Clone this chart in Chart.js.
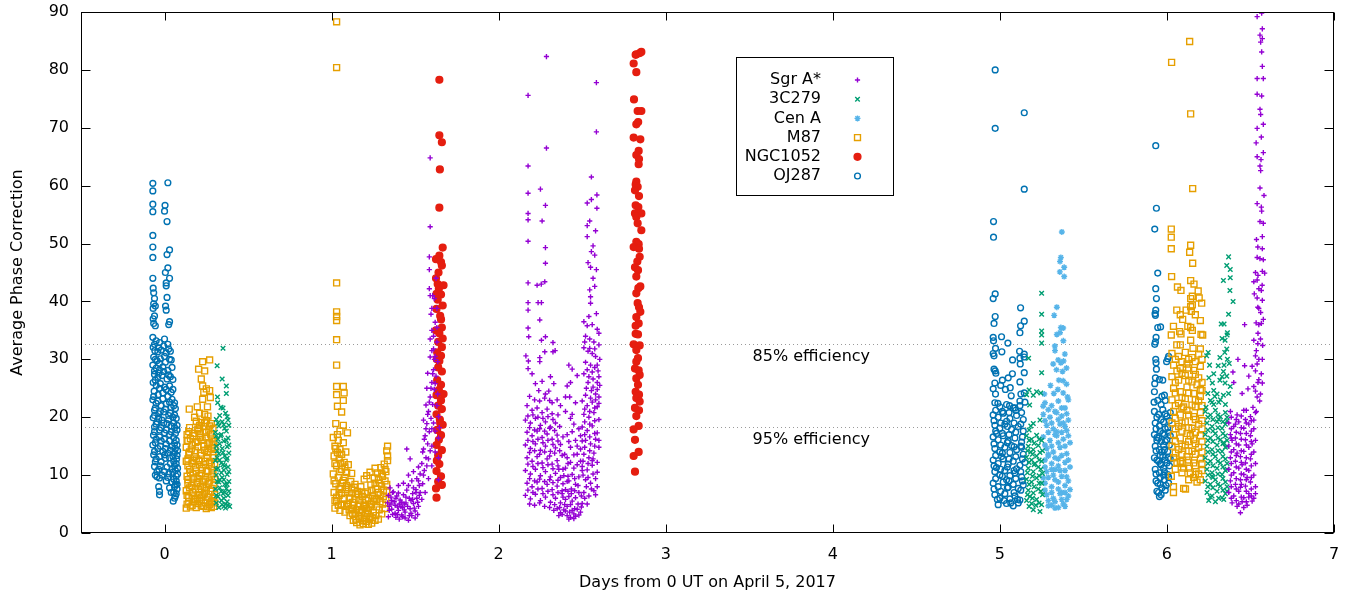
<!DOCTYPE html>
<html><head><meta charset="utf-8">
<script src="https://cdn.jsdelivr.net/npm/chart.js@4.4.1/dist/chart.umd.min.js"></script>
<style>html,body{margin:0;padding:0;background:#fff;}canvas{display:block;}</style>
</head><body>
<canvas id="c" width="1346" height="592"></canvas>
<script>
// ---- tick labels ----
const xTickValues = [0,1,2,3,4,5,6,7];
const yTickValues = [0,10,20,30,40,50,60,70,80,90];

// ---- efficiency reference levels ----
const efficiencyLevels = [
  {label:'85% efficiency', value:32.67, labelX:3.52, labelY:30.5},
  {label:'95% efficiency', value:18.35, labelX:3.52, labelY:16.1}
];

// ---- series values [day, average phase correction] ----
const sgrDay1 = [[1.34,6.5],[1.36,5.6],[1.38,4.8],[1.4,3.9],[1.42,3.1],[1.44,2.6],[1.46,2.2],[1.48,3.0],[1.5,3.8],[1.52,4.6],
[1.345,3.9],[1.365,3.2],[1.385,2.7],[1.405,2.4],[1.425,4.4],[1.445,5.2],[1.465,6.0],[1.485,6.8],[1.505,7.5],[1.525,8.2],
[1.35,7.8],[1.37,7.1],[1.39,6.4],[1.41,5.7],[1.43,6.6],[1.45,7.4],[1.47,4.2],[1.49,5.1],[1.51,6.0],[1.53,10.2],
[1.34,2.8],[1.36,4.1],[1.38,3.4],[1.4,6.9],[1.42,5.3],[1.44,3.6],[1.46,8.2],[1.48,9.0],[1.5,2.6],[1.52,11.4],
[1.45,14.5],[1.47,12.8],[1.49,10.6],[1.51,9.4],[1.53,7.0],[1.355,5.0],[1.395,4.5],[1.435,4.0],[1.475,5.6],[1.515,3.2],
[1.54,12.0],[1.55,14.5],[1.56,16.8],[1.57,18.9],[1.58,21.0],[1.59,23.5],[1.6,26.0],[1.61,28.2],[1.62,30.5],[1.63,33.0],
[1.545,8.5],[1.555,10.8],[1.565,13.0],[1.575,15.4],[1.585,17.5],[1.595,19.8],[1.605,22.2],[1.615,24.8],[1.625,27.1],[1.635,29.6],
[1.54,5.8],[1.56,7.0],[1.58,9.4],[1.6,11.6],[1.62,14.0],[1.64,16.4],[1.58,12.8],[1.6,15.0],[1.62,17.6],[1.64,20.1],
[1.6,31.5],[1.61,34.0],[1.62,36.4],[1.63,38.8],[1.615,40.5],[1.59,64.8],[1.59,52.9],[1.585,47.7],[1.585,45.5],[1.585,42.2],
[1.59,41.0],[1.595,37.8],[1.6,35.0],[1.59,30.4],[1.57,25.0],[1.575,27.6],[1.565,22.1],[1.55,19.5],[1.59,33.5],[1.605,41.0],
[1.625,44.0],[1.63,35.5],[1.635,24.0],[1.64,13.0],[1.64,9.2],[1.645,18.2]];
const sgrDay1b = [[1.335,5.2],[1.355,6.2],[1.375,5.4],[1.395,3.2],[1.415,4.6],[1.435,5.0],[1.455,4.6],[1.475,3.4],[1.495,4.3],[1.515,5.3],
[1.345,4.6],[1.365,7.0],[1.385,6.0],[1.405,5.0],[1.425,2.8],[1.445,6.2],[1.465,3.0],[1.485,5.8],[1.505,7.0],[1.525,6.5],
[1.4,8.2],[1.43,8.6],[1.46,10.0],[1.49,7.8],[1.52,9.0],[1.545,14.0],[1.555,16.2],[1.565,18.0],[1.575,20.5],[1.585,22.6],
[1.595,25.0],[1.605,27.5],[1.615,30.0],[1.55,10.0],[1.57,11.6],[1.59,14.2],[1.61,19.0],[1.63,22.0],[1.6,18.0],[1.62,25.8],
[1.61,31.8],[1.6,38.8]];

const sgrDay2 = [[2.286,82.3],[2.585,77.8],[2.176,75.6],[2.585,69.3],[2.286,66.5],[2.176,63.4],[2.555,61.5],[2.176,58.7],[2.25,59.4],[2.588,58.4],
[2.53,57.0],[2.555,57.6],[2.28,56.6],[2.588,56.1],[2.176,55.2],[2.176,54.1],[2.26,53.9],[2.545,53.9],[2.53,53.1],[2.58,52.2],
[2.53,51.2],[2.176,50.4],[2.28,49.3],[2.565,49.6],[2.555,48.6],[2.575,48.0],[2.535,46.7],[2.28,46.6],[2.55,45.9],[2.585,45.5],
[2.176,43.2],[2.23,42.8],[2.255,43.0],[2.276,43.4],[2.565,44.0],[2.575,42.6],[2.545,42.0],[2.176,39.8],[2.176,38.5],[2.236,39.8],
[2.256,39.8],[2.55,40.8],[2.55,39.7],[2.585,37.9],[2.246,36.8],[2.54,37.4],[2.176,35.4],[2.18,33.9],[2.28,33.9],[2.325,32.9],
[2.256,33.3],[2.276,31.3],[2.325,31.3],[2.338,31.5],[2.163,30.6],[2.178,29.7],[2.246,29.6],[2.176,28.4],[2.246,30.3],
[2.51,36.5],[2.53,35.8],[2.56,36.0],[2.59,35.2],[2.6,34.5],[2.52,34.0],[2.545,33.5],[2.57,33.0],[2.6,32.5],[2.51,32.0],
[2.535,31.4],[2.56,31.0],[2.58,30.5],[2.605,30.0],[2.52,29.5],[2.55,29.0],[2.575,28.6],[2.595,28.0],[2.51,27.5],[2.54,27.0],
[2.565,26.6],[2.59,26.0],[2.605,25.5],[2.525,25.0],[2.555,24.6],[2.58,24.0],[2.6,23.5],
[2.42,29.0],[2.44,28.3],[2.47,27.2],[2.41,25.4],[2.425,23.5],[2.4,21.0],[2.44,20.5],[2.37,22.0],[2.31,27.0],[2.33,25.8],
[2.35,23.0],[2.3,24.5],[2.32,22.5],[2.2,27.5],[2.22,25.8],[2.24,24.6],[2.26,26.2],[2.28,24.0],
[2.17,22.0],[2.2,21.2],[2.23,21.6],[2.26,20.8],[2.29,21.4],[2.32,20.6],
[2.16,19.5],[2.19,19.0],[2.22,19.8],[2.25,18.6],[2.28,19.2],[2.31,18.3],[2.34,19.0],
[2.17,17.4],[2.2,16.8],[2.23,17.6],[2.26,16.5],[2.29,17.1],[2.32,16.2],[2.35,16.9],
[2.16,15.2],[2.19,14.6],[2.22,15.4],[2.25,14.3],[2.28,15.0],[2.31,14.1],[2.34,14.7],[2.37,15.3],
[2.17,13.0],[2.2,12.4],[2.23,13.2],[2.26,12.1],[2.29,12.8],[2.32,11.9],[2.35,12.5],[2.38,13.4],
[2.16,10.8],[2.19,10.2],[2.22,11.0],[2.25,9.9],[2.28,10.6],[2.31,9.7],[2.34,10.3],[2.37,9.6],[2.4,11.2],
[2.17,8.6],[2.2,8.0],[2.23,8.8],[2.26,7.7],[2.29,8.4],[2.32,7.5],[2.35,8.1],[2.38,7.3],[2.41,8.9],
[2.16,6.5],[2.19,5.9],[2.22,6.7],[2.25,5.6],[2.28,6.2],[2.31,5.3],[2.34,6.0],[2.37,5.2],[2.4,5.8],
[2.35,4.2],[2.37,3.5],[2.39,4.0],[2.41,3.0],[2.43,2.7],[2.45,3.3],[2.47,4.1],[2.49,3.6],[2.38,6.8],[2.4,7.5],
[2.42,6.3],[2.44,5.5],[2.46,6.1],[2.48,7.0],[2.5,5.1],[2.42,9.0],[2.44,10.1],[2.46,8.4],[2.48,9.7],[2.5,10.8],
[2.43,12.2],[2.45,13.5],[2.47,11.8],[2.49,14.5],[2.42,15.8],[2.44,17.5],[2.46,16.0],[2.41,4.6],[2.43,4.9],[2.45,2.5],
[2.39,9.9],[2.36,11.0],[2.33,3.9],[2.48,18.0],[2.5,15.9],
[2.5,22.8],[2.53,22.0],[2.56,22.6],[2.59,21.8],[2.51,20.5],[2.54,20.0],[2.57,20.8],[2.6,19.6],[2.5,18.3],[2.53,17.7],
[2.56,18.5],[2.59,17.3],[2.52,16.0],[2.55,15.4],[2.58,16.2],[2.6,14.8],[2.51,13.6],[2.54,13.0],[2.57,13.8],[2.5,11.5],
[2.53,10.9],[2.56,11.7],[2.59,10.5],[2.52,9.2],[2.55,8.6],[2.58,9.4],[2.51,7.0],[2.54,6.4],[2.57,7.3],[2.53,5.0],
[2.56,12.5],[2.6,27.0],[2.59,8.0]];
const sgrDay2b = [[2.185,23.6],[2.215,23.0],[2.245,22.8],[2.275,23.3],[2.305,22.9],
[2.175,20.2],[2.205,20.4],[2.235,20.0],[2.265,19.8],[2.295,20.1],[2.325,19.6],[2.355,20.4],
[2.185,18.2],[2.215,17.8],[2.245,18.0],[2.275,17.6],[2.305,18.1],[2.335,17.7],[2.365,18.4],
[2.175,16.0],[2.205,15.8],[2.235,16.2],[2.265,15.6],[2.295,16.0],[2.325,15.3],[2.355,15.9],[2.385,16.6],
[2.185,13.9],[2.215,14.2],[2.245,13.6],[2.275,14.0],[2.305,13.3],[2.335,13.8],[2.365,14.2],[2.395,13.6],
[2.175,11.9],[2.205,11.5],[2.235,12.0],[2.265,11.3],[2.295,11.8],[2.325,11.1],[2.355,11.6],[2.385,11.0],[2.415,12.0],
[2.185,9.4],[2.215,9.0],[2.245,9.3],[2.275,8.9],[2.305,9.2],[2.325,8.7],[2.355,9.1],[2.385,8.5],[2.415,9.8],[2.435,7.6],[2.455,9.4],
[2.175,7.4],[2.205,7.0],[2.235,7.6],[2.265,6.8],[2.295,7.2],[2.325,6.6],[2.355,7.0],[2.385,6.2],[2.415,7.2],[2.435,6.8],[2.455,7.3],[2.475,8.2],[2.495,6.4],
[2.185,5.0],[2.215,4.8],[2.245,5.2],[2.275,4.6],[2.305,4.4],[2.335,4.9],[2.365,4.4],[2.395,4.9],[2.425,3.6],[2.455,4.2],[2.475,5.0],[2.495,4.5],[2.515,6.0],
[2.38,3.2],[2.4,3.8],[2.42,2.4],[2.44,3.9],[2.46,2.9],[2.48,3.1],[2.36,3.0],
[2.515,21.4],[2.545,21.0],[2.575,21.6],[2.6,22.4],[2.515,19.2],[2.545,18.8],[2.575,19.4],[2.515,17.0],[2.545,16.6],[2.575,17.2],
[2.6,16.0],[2.515,14.8],[2.545,14.2],[2.575,15.0],[2.505,12.4],[2.535,12.0],[2.565,12.8],[2.59,12.2],[2.505,10.0],[2.535,9.6],
[2.565,10.2],[2.525,8.0],[2.555,7.6],[2.58,6.6],[2.515,33.0],[2.545,31.9],[2.575,31.8],[2.53,28.2],[2.56,27.8],[2.59,29.0],
[2.535,26.0],[2.565,25.2],[2.59,24.8],[2.52,23.8],[2.55,23.3],[2.58,23.0],
[2.41,13.0],[2.43,14.8],[2.45,11.2],[2.47,13.6],[2.49,12.4],[2.41,17.0],[2.45,18.8],[2.47,15.0],[2.49,16.8],[2.43,19.8],
[2.46,22.5],[2.43,26.0],[2.4,23.5]];

const sgrDay6 = [[6.567,89.8],[6.54,89.2],[6.571,87.1],[6.557,86.0],[6.571,85.4],[6.561,84.8],[6.567,83.1],[6.571,80.6],[6.54,78.5],[6.577,78.5],
[6.54,75.8],[6.567,75.5],[6.557,73.2],[6.561,72.3],[6.577,70.6],[6.54,69.9],[6.565,68.4],[6.534,67.4],[6.577,65.7],[6.54,65.0],
[6.563,64.5],[6.557,63.4],[6.561,62.6],[6.557,59.6],[6.581,58.3],[6.54,56.9],[6.565,56.3],[6.567,55.6],[6.557,53.8],[6.577,53.5],
[6.571,51.2],[6.536,50.7],[6.544,49.4],[6.571,49.1],[6.54,47.6],[6.557,47.4],[6.577,47.2],[6.53,45.0],[6.571,45.2],[6.585,44.9],
[6.54,43.7],[6.52,43.4],[6.55,42.2],[6.565,41.9],[6.523,41.3],[6.54,40.6],[6.571,40.2],[6.544,39.0],[6.561,38.1],[6.577,36.9],
[6.534,36.3],[6.55,36.0],[6.565,36.2],[6.465,36.0],[6.52,33.3],[6.544,32.7],[6.573,32.4],[6.53,30.6],[6.571,30.0],[6.425,30.0],
[6.465,28.9],[6.51,28.8],[6.54,29.2],[6.395,27.8],[6.49,27.1],[6.571,25.9],[6.52,25.3],[6.4,26.0],[6.485,24.9],[6.45,24.1],
[6.54,23.5],[6.515,21.7],[6.475,21.2],[6.53,28.0],[6.55,26.5],[6.53,24.5],[6.555,22.8],[6.535,21.0],[6.52,19.5],
[6.38,21.0],[6.42,20.4],[6.46,21.2],[6.5,20.1],[6.53,20.8],
[6.37,19.0],[6.4,18.4],[6.43,19.2],[6.46,18.1],[6.49,18.8],[6.52,18.0],
[6.38,17.0],[6.41,16.4],[6.44,17.2],[6.47,16.1],[6.5,16.8],[6.53,16.0],
[6.37,15.0],[6.4,14.4],[6.43,15.2],[6.46,14.1],[6.49,14.8],[6.52,14.0],
[6.38,13.0],[6.41,12.4],[6.44,13.2],[6.47,12.1],[6.5,12.8],[6.53,12.0],
[6.37,11.0],[6.4,10.4],[6.43,11.2],[6.46,10.1],[6.49,10.8],[6.52,10.0],
[6.38,9.0],[6.41,8.4],[6.44,9.2],[6.47,8.1],[6.5,8.8],[6.53,8.0],
[6.37,7.0],[6.4,6.4],[6.43,7.2],[6.46,6.1],[6.49,6.8],[6.52,6.0],
[6.39,5.2],[6.42,4.6],[6.45,5.4],[6.48,4.8],[6.51,5.5],[6.44,3.5],
[6.39,16.0],[6.42,13.8],[6.45,11.8],[6.48,9.6],[6.51,15.4],[6.44,7.9],[6.41,18.8],[6.47,19.6]];
const sgrDay6b = [[6.385,20.0],[6.415,19.6],[6.445,20.2],[6.475,19.0],[6.505,19.4],[6.385,18.0],[6.415,17.4],[6.445,18.2],[6.475,17.2],[6.505,17.6],
[6.385,16.4],[6.415,15.4],[6.445,16.2],[6.475,15.2],[6.505,15.8],[6.385,14.0],[6.415,13.4],[6.445,14.2],[6.475,13.0],[6.505,13.6],
[6.385,12.0],[6.415,11.4],[6.445,12.2],[6.475,11.0],[6.505,11.6],[6.385,10.0],[6.415,9.4],[6.445,10.2],[6.475,9.2],[6.505,9.6],
[6.385,8.0],[6.415,7.6],[6.445,8.4],[6.475,7.2],[6.505,7.6],[6.385,6.0],[6.415,5.6],[6.445,6.2],[6.475,5.4],[6.505,6.4],
[6.43,5.0],[6.46,4.4],[6.49,6.2],[6.53,6.8],[6.545,34.5],[6.56,33.5],[6.535,31.5],[6.55,30.0],[6.565,27.5],[6.545,26.0],
[6.56,24.0],[6.55,38.8],[6.57,42.8],[6.545,44.5]];

const c3Day0 = [[0.35,31.9],[0.315,28.9],[0.345,26.6],[0.37,25.4],[0.37,24.1],[0.317,23.5],[0.318,22.5],[0.338,21.7],[0.35,21.6],[0.365,20.7],
[0.33,20.3],[0.375,20.1],[0.31,19.6],[0.345,19.2],[0.38,19.5],[0.325,18.5],[0.36,18.1],[0.385,18.6],[0.305,17.4],[0.34,17.0],
[0.37,17.6],[0.32,16.2],[0.355,15.9],[0.38,16.4],[0.31,15.0],[0.345,14.6],[0.375,14.9],[0.325,13.7],[0.36,13.3],[0.385,13.8],
[0.305,12.5],[0.34,12.1],[0.37,12.6],[0.32,11.2],[0.355,10.9],[0.38,11.4],[0.31,10.0],[0.345,9.6],[0.375,10.1],[0.325,8.8],
[0.36,8.4],[0.385,8.9],[0.305,7.6],[0.34,7.2],[0.37,7.7],[0.32,6.3],[0.355,6.0],[0.38,6.5],[0.31,5.2],[0.345,4.9],
[0.375,5.4],[0.325,4.4],[0.365,4.3],[0.39,4.6],[0.335,16.8],[0.35,11.8],[0.33,9.2],[0.36,7.0],[0.315,13.0]];
const c3Day0b = [[0.32,19.0],[0.355,18.7],[0.31,16.8],[0.37,16.0],[0.33,15.4],[0.385,15.2],[0.315,14.2],[0.35,13.9],[0.375,12.9],[0.33,12.6],
[0.36,11.6],[0.31,11.0],[0.385,10.6],[0.34,10.4],[0.355,9.2],[0.315,8.9],[0.375,8.4],[0.33,7.8],[0.35,6.8],[0.385,7.2],
[0.31,6.5],[0.34,5.6],[0.365,5.0],[0.38,4.8],[0.355,4.6]];

const c3Day5 = [[5.25,41.4],[5.25,37.8],[5.25,34.9],[5.25,34.2],[5.25,32.8],[5.172,30.2],[5.25,27.7],[5.175,24.7],[5.2,23.8],[5.22,24.4],
[5.245,24.2],[5.16,23.9],[5.178,22.1],[5.185,18.5],[5.24,19.5],[5.2,18.9],[5.175,17.8],
[5.16,16.8],[5.19,16.2],[5.22,16.9],[5.25,16.0],[5.17,15.0],[5.2,14.4],[5.23,15.1],[5.255,14.2],[5.16,13.1],
[5.19,12.6],[5.22,13.3],[5.25,12.4],[5.17,11.2],[5.2,10.6],[5.23,11.4],[5.255,10.3],[5.16,9.3],[5.19,8.8],[5.22,9.5],
[5.25,8.6],[5.17,7.4],[5.2,6.9],[5.23,7.6],[5.255,6.6],[5.16,5.6],[5.19,5.1],[5.22,5.8],[5.25,4.9],[5.2,4.0],
[5.24,3.7],[5.18,6.3],[5.21,12.0],[5.235,9.9],[5.185,14.0]];
const c3Day5b = [[5.175,16.0],[5.205,15.5],[5.235,16.2],[5.165,14.2],[5.195,13.6],[5.24,13.9],[5.175,12.2],[5.205,11.8],[5.235,12.6],[5.165,10.4],
[5.195,9.8],[5.245,11.0],[5.175,8.4],[5.205,8.0],[5.235,8.6],[5.165,6.6],[5.195,6.0],[5.245,7.2],[5.175,4.6],[5.215,4.8],[5.235,5.2]];

const c3Day6 = [[6.369,47.7],[6.358,46.2],[6.379,45.5],[6.379,44.1],[6.338,43.6],[6.377,41.9],[6.396,40.0],[6.369,37.8],[6.342,36.1],[6.325,36.1],
[6.362,34.6],[6.36,34.2],[6.33,33.6],[6.348,33.3],[6.358,31.8],[6.346,31.2],[6.247,31.2],[6.238,30.6],[6.317,30.3],[6.362,30.0],
[6.373,29.3],[6.255,29.0],[6.307,28.9],[6.342,29.0],[6.28,27.5],[6.338,27.9],[6.358,27.1],[6.251,26.8],[6.272,25.9],[6.317,26.4],
[6.348,25.9],[6.379,25.3],[6.245,24.1],[6.286,23.6],[6.338,23.8],[6.369,24.1],[6.26,22.9],[6.234,21.7],
[6.23,21.0],[6.26,20.4],[6.29,21.2],[6.32,20.1],[6.35,20.8],[6.36,20.0],
[6.24,19.0],[6.27,18.4],[6.3,19.2],[6.33,18.1],[6.35,18.8],
[6.23,17.0],[6.26,16.4],[6.29,17.2],[6.32,16.1],[6.35,16.8],[6.36,16.0],
[6.24,15.0],[6.27,14.4],[6.3,15.2],[6.33,14.1],[6.35,14.8],
[6.23,13.0],[6.26,12.4],[6.29,13.2],[6.32,12.1],[6.35,12.8],[6.36,12.0],
[6.24,11.0],[6.27,10.4],[6.3,11.2],[6.33,10.1],[6.35,10.8],
[6.23,9.0],[6.26,8.4],[6.29,9.2],[6.32,8.1],[6.35,8.8],[6.36,8.0],
[6.24,7.0],[6.27,6.4],[6.3,7.2],[6.33,6.1],[6.35,6.8],
[6.25,5.6],[6.29,5.4],[6.34,5.8],[6.28,22.2],[6.31,19.6],[6.34,15.6],[6.27,9.8]];
const c3Day6b = [[6.245,20.0],[6.275,19.6],[6.305,20.4],[6.335,19.2],[6.36,19.4],[6.245,17.8],[6.275,17.6],[6.305,18.2],[6.335,17.2],[6.245,16.0],
[6.275,15.8],[6.305,16.4],[6.335,15.4],[6.36,15.0],[6.245,14.0],[6.275,13.6],[6.305,14.2],[6.335,13.2],[6.245,12.0],[6.275,11.6],
[6.305,12.4],[6.335,11.4],[6.36,11.0],[6.245,10.0],[6.275,9.6],[6.305,10.2],[6.335,9.4],[6.245,8.0],[6.275,7.8],[6.305,8.4],
[6.335,7.4],[6.36,7.2],[6.26,6.2],[6.31,6.0],[6.28,24.6],[6.31,22.6],[6.33,27.0],[6.3,24.0],[6.27,22.6],[6.35,22.2],[6.32,23.0]];

const cenDay5 = [[5.371,52.0],[5.365,47.6],[5.36,46.9],[5.385,45.9],[5.359,45.1],[5.385,44.3],[5.341,39.0],[5.325,37.6],[5.379,35.4],[5.365,35.5],
[5.341,34.3],[5.36,34.6],[5.38,33.2],[5.329,32.3],[5.33,31.5],[5.349,29.9],[5.389,30.9],[5.365,29.4],[5.381,29.7],[5.319,29.2],
[5.339,28.2],[5.375,27.9],[5.399,28.5],[5.303,25.5],[5.353,26.4],[5.379,26.3],[5.399,25.7],[5.323,24.1],[5.347,24.8],[5.266,24.0],
[5.379,24.2],[5.405,23.5],[5.259,21.9],
[5.27,22.5],[5.31,22.0],[5.35,22.8],[5.39,21.6],[5.26,20.5],[5.3,20.0],[5.34,20.8],[5.37,20.2],[5.41,19.5],[5.28,18.6],
[5.32,18.0],[5.36,18.8],[5.4,17.7],[5.26,16.6],[5.3,16.0],[5.34,16.8],[5.38,16.2],[5.42,15.6],[5.28,14.6],[5.32,14.0],
[5.36,14.8],[5.4,13.7],[5.27,12.6],[5.31,12.0],[5.35,12.8],[5.39,12.2],[5.42,11.4],[5.28,10.6],[5.32,10.0],[5.36,10.8],
[5.4,9.7],[5.27,8.6],[5.31,8.0],[5.35,8.8],[5.39,8.2],[5.42,7.5],[5.28,6.6],[5.32,6.0],[5.36,6.8],[5.4,5.8],
[5.29,4.7],[5.33,4.3],[5.38,5.0],[5.26,9.5],[5.29,13.3],[5.34,17.5],[5.41,23.0],[5.38,19.0],[5.33,11.0],[5.37,7.0]];
const cenDay5b = [[5.29,21.3],[5.33,21.0],[5.37,21.6],[5.4,20.6],[5.27,19.4],[5.31,19.0],[5.35,19.6],[5.39,18.4],[5.29,17.4],[5.33,17.0],
[5.37,17.4],[5.41,16.8],[5.27,15.2],[5.31,15.0],[5.35,15.6],[5.39,15.0],[5.29,13.6],[5.33,13.0],[5.37,13.4],[5.41,12.6],
[5.27,11.4],[5.31,11.0],[5.35,11.6],[5.39,10.8],[5.29,9.6],[5.33,9.2],[5.37,9.8],[5.41,9.0],[5.27,7.4],[5.31,7.0],
[5.35,7.6],[5.39,7.0],[5.29,5.6],[5.33,5.4],[5.37,5.8],[5.41,6.4],[5.31,4.8],[5.35,4.4],[5.39,4.6]];

const m87Day0 = [[0.228,29.6],[0.27,29.9],[0.204,28.3],[0.24,28.0],[0.22,26.6],[0.228,25.4],[0.25,24.9],[0.27,24.6],[0.235,24.3],[0.274,23.4],
[0.228,23.1],[0.257,21.8],[0.196,21.8],[0.148,21.4],[0.21,20.7],[0.24,20.5],[0.26,20.2],[0.18,20.0],
[0.19,19.3],[0.22,19.1],[0.25,19.4],[0.28,18.9],[0.15,18.2],[0.2,18.0],[0.235,18.4],[0.265,17.8],[0.29,18.1],
[0.135,17.0],[0.17,16.8],[0.21,17.2],[0.245,16.6],[0.275,17.1],[0.14,15.9],[0.185,15.6],[0.225,16.1],[0.26,15.4],[0.295,15.8],
[0.13,14.8],[0.16,14.5],[0.2,14.9],[0.24,14.3],[0.28,14.6],[0.145,13.6],[0.18,13.2],[0.215,13.8],[0.255,13.0],[0.29,13.4],
[0.13,12.4],[0.165,12.0],[0.205,12.5],[0.235,11.8],[0.27,12.2],[0.3,11.9],[0.15,11.0],[0.19,10.7],[0.225,11.2],[0.26,10.6],
[0.285,10.9],[0.135,9.8],[0.175,9.5],[0.21,9.9],[0.245,9.3],[0.28,9.7],[0.14,8.6],[0.16,8.2],[0.195,8.7],[0.23,8.1],
[0.265,8.5],[0.295,8.3],[0.13,7.3],[0.17,7.0],[0.205,7.5],[0.24,6.9],[0.275,7.2],[0.145,6.1],[0.185,5.8],[0.22,6.2],
[0.255,5.7],[0.29,6.0],[0.135,5.0],[0.165,4.8],[0.2,5.1],[0.235,4.6],[0.27,4.9],[0.3,5.2],[0.13,4.3],[0.25,4.2],
[0.28,4.4],[0.155,16.3],[0.19,12.8],[0.225,9.0],[0.26,13.9],[0.17,10.2],[0.21,6.6],[0.25,7.8],[0.285,15.2],[0.14,11.6],[0.2,17.8]];
const m87Day0b = [[0.145,17.5],[0.18,17.2],[0.215,16.5],[0.25,17.4],[0.285,16.4],[0.135,16.0],[0.165,15.2],[0.2,15.8],[0.235,15.0],[0.27,15.6],
[0.3,14.8],[0.15,14.0],[0.185,14.2],[0.22,13.4],[0.26,14.6],[0.295,13.0],[0.14,12.8],[0.175,12.5],[0.21,11.8],[0.245,12.4],
[0.28,11.5],[0.155,10.4],[0.185,11.3],[0.22,10.3],[0.25,10.8],[0.29,10.2],[0.14,9.2],[0.17,8.8],[0.2,9.4],[0.235,8.8],
[0.27,9.0],[0.3,9.3],[0.15,7.8],[0.185,7.6],[0.215,8.0],[0.25,7.4],[0.285,7.7],[0.135,6.5],[0.165,6.4],[0.195,6.0],
[0.23,6.6],[0.265,6.2],[0.3,6.6],[0.145,5.4],[0.175,5.4],[0.21,5.5],[0.245,5.2],[0.28,5.4],[0.155,4.5],[0.19,4.4],
[0.22,4.7],[0.26,4.5],[0.295,4.6],[0.27,18.5],[0.21,18.6],[0.24,19.0]];

const m87Day1 = [[1.03,88.3],[1.03,80.4],[1.03,43.2],[1.03,38.2],[1.03,37.4],[1.03,36.7],[1.03,33.4],[1.03,29.0],[1.03,25.3],[1.07,25.3],
[1.03,23.9],[1.075,24.2],[1.07,22.9],[1.035,21.9],[1.06,20.9],[1.025,18.9],[1.07,18.6],[1.095,17.3],[1.05,17.6],
[1.01,16.5],[1.04,16.0],[1.07,15.6],[1.02,15.0],[1.05,14.4],[1.085,14.0],[1.015,13.3],[1.045,12.8],[1.075,12.2],[1.03,11.6],
[1.06,11.0],[1.09,10.5],[1.01,10.2],[1.04,9.6],[1.07,9.1],[1.025,8.5],[1.055,8.0],[1.085,7.5],[1.015,7.0],[1.045,6.5],
[1.075,6.0],[1.03,5.5],[1.06,5.0],[1.09,4.6],[1.02,4.3],[1.05,3.9],[1.08,3.6],[1.035,13.9],[1.065,8.7],[1.04,4.8],
[1.1,7.8],[1.12,6.9],[1.14,5.8],[1.16,4.6],[1.18,3.5],[1.2,2.6],[1.11,3.0],[1.13,2.2],[1.15,1.8],[1.17,2.5],
[1.19,1.6],[1.21,2.0],[1.23,2.8],[1.25,3.6],[1.27,4.5],[1.29,5.4],[1.31,6.3],[1.33,7.1],
[1.1,5.0],[1.12,4.2],[1.14,3.3],[1.16,2.9],[1.18,4.0],[1.2,4.8],[1.22,3.9],[1.24,4.9],[1.26,6.0],[1.28,7.0],[1.3,8.1],[1.32,9.0],
[1.105,6.2],[1.125,5.3],[1.145,6.8],[1.165,5.7],[1.185,6.3],[1.205,5.6],[1.225,5.0],[1.245,6.4],[1.265,7.6],[1.285,8.6],[1.305,9.8],[1.325,10.6],
[1.115,8.9],[1.135,7.9],[1.155,7.2],[1.175,8.0],[1.195,9.3],[1.215,7.1],[1.235,8.3],[1.255,9.5],[1.275,10.4],[1.295,11.3],[1.315,11.9],[1.335,12.5],
[1.33,14.2],[1.335,13.3],[1.335,15.0],[1.26,11.2],[1.23,10.5],[1.21,9.9],[1.28,2.4],[1.3,3.3],[1.32,4.2],[1.24,1.7],
[1.26,2.2],[1.22,1.5],[1.17,1.4],[1.1,11.8],[1.12,10.3]];
const m87Day1b = [[1.105,4.0],[1.125,3.4],[1.145,2.4],[1.165,3.6],[1.185,2.1],[1.205,3.4],[1.225,2.3],[1.245,2.6],[1.265,3.0],[1.285,4.0],
[1.305,5.0],[1.325,5.8],[1.11,6.0],[1.13,4.8],[1.15,4.0],[1.17,5.0],[1.19,4.6],[1.21,4.2],[1.23,4.5],[1.25,5.5],
[1.27,5.8],[1.29,6.6],[1.31,7.4],[1.33,8.4],[1.12,7.6],[1.14,8.4],[1.16,6.6],[1.18,7.1],[1.2,6.8],[1.22,6.0],
[1.24,7.4],[1.26,8.6],[1.28,9.2],[1.3,10.2],[1.32,11.0],[1.02,12.0],[1.05,10.6],[1.08,9.6],[1.015,9.0],[1.045,7.6],
[1.075,4.8],[1.03,6.2],[1.06,6.8],[1.09,8.2],[1.02,5.6],[1.055,12.0],[1.08,11.4],[1.025,14.6],[1.06,13.6],[1.035,17.0]];

const m87Day6 = [[6.136,84.9],[6.028,81.3],[6.142,72.4],[6.154,59.5],[6.026,52.5],[6.026,51.1],[6.026,49.1],[6.142,49.7],[6.136,48.5],[6.154,46.6],
[6.028,44.3],[6.142,43.6],[6.063,42.5],[6.084,41.9],[6.162,43.0],[6.187,41.8],[6.152,40.9],[6.142,40.5],[6.193,40.6],[6.208,39.7],
[6.152,39.4],[6.142,39.1],[6.059,38.5],[6.115,38.5],[6.146,38.3],[6.08,37.7],[6.17,37.7],[6.094,36.9],[6.2,36.7],[6.039,35.7],
[6.125,35.7],[6.142,35.5],[6.152,35.0],[6.076,34.8],[6.084,34.4],[6.204,34.3],[6.026,34.2],[6.214,34.2],[6.059,32.5],[6.08,32.5],
[6.142,33.3],[6.156,31.9],[6.2,31.8],
[6.03,31.0],[6.07,30.5],[6.11,31.2],[6.15,30.3],[6.19,30.9],[6.21,30.0],
[6.04,29.0],[6.08,28.4],[6.12,29.2],[6.16,28.1],[6.2,28.8],
[6.03,27.0],[6.07,26.4],[6.11,27.2],[6.15,26.1],[6.19,26.8],[6.21,26.0],
[6.04,25.0],[6.08,24.4],[6.12,25.2],[6.16,24.1],[6.2,24.8],
[6.03,23.0],[6.07,22.4],[6.11,23.2],[6.15,22.1],[6.19,22.8],[6.21,22.0],
[6.04,21.0],[6.08,20.4],[6.12,21.2],[6.16,20.1],[6.2,20.8],
[6.03,19.0],[6.07,18.4],[6.11,19.2],[6.15,18.1],[6.19,18.8],[6.21,18.0],
[6.04,17.0],[6.08,16.4],[6.12,17.2],[6.16,16.1],[6.2,16.8],
[6.03,15.0],[6.07,14.4],[6.11,15.2],[6.15,14.1],[6.19,14.8],[6.21,14.0],
[6.04,13.0],[6.08,12.4],[6.12,13.2],[6.16,12.1],[6.2,12.8],
[6.05,11.0],[6.09,10.4],[6.13,11.2],[6.17,10.1],[6.21,10.8],
[6.026,9.8],[6.039,8.0],[6.1,7.7],[6.111,7.6],[6.039,7.0],[6.13,9.2],[6.18,8.8],
[6.06,28.0],[6.1,21.8],[6.14,16.8],[6.18,25.6],[6.09,13.6],[6.13,30.0],[6.17,19.6],[6.2,23.6]];
const m87Day6b = [[6.05,30.0],[6.09,29.6],[6.13,28.5],[6.17,29.6],[6.05,26.0],[6.09,27.6],[6.13,26.4],[6.17,27.4],[6.05,24.2],[6.09,23.4],
[6.13,24.2],[6.17,23.0],[6.21,24.6],[6.05,22.0],[6.09,21.6],[6.13,20.4],[6.17,21.8],[6.05,19.8],[6.09,19.0],[6.13,18.2],
[6.17,17.4],[6.21,19.4],[6.05,18.0],[6.09,17.6],[6.13,15.8],[6.17,15.4],[6.05,15.8],[6.09,15.0],[6.13,14.2],[6.17,13.6],
[6.21,15.8],[6.05,13.8],[6.09,12.0],[6.13,12.6],[6.17,11.6],[6.21,12.0],[6.06,12.2],[6.1,11.2],[6.14,10.4],[6.19,10.2],
[6.16,9.6],[6.2,9.2]];

const ngcDay1 = [[1.645,78.3],[1.645,68.7],[1.66,67.5],[1.648,62.8],[1.645,56.2],[1.665,49.3],[1.625,47.3],[1.645,47.9],[1.655,46.8],[1.66,46.2],
[1.625,44.0],[1.635,43.0],[1.642,42.2],[1.628,41.3],[1.655,41.2],[1.635,40.3],[1.665,39.3],[1.628,38.7],[1.655,36.9],[1.66,35.5],
[1.625,35.0],[1.645,34.5],[1.665,33.6],[1.638,33.0],[1.66,32.1],[1.632,31.2],[1.655,30.6],[1.645,29.7],[1.638,28.6],[1.66,27.9],
[1.632,26.4],[1.655,25.6],[1.642,24.7],[1.628,23.8],[1.655,22.9],[1.638,22.0],[1.66,21.4],[1.628,20.5],[1.648,19.6],[1.665,18.7],
[1.632,17.8],[1.655,16.9],[1.642,16.1],[1.628,15.2],[1.66,14.3],[1.638,13.4],[1.645,11.9],[1.628,10.7],[1.655,9.8],[1.638,8.9],
[1.66,8.3],[1.625,7.7],[1.628,6.1],[1.65,37.5],[1.64,45.0],[1.67,42.8],[1.63,30.0],[1.67,24.0],[1.65,19.0],[1.63,12.5]];

const ngcDay2 = [[2.824,82.7],[2.854,83.1],[2.845,82.9],[2.82,82.6],[2.808,81.1],[2.824,79.6],[2.81,74.9],[2.832,72.9],[2.854,72.9],[2.824,70.6],
[2.835,71.0],[2.808,68.3],[2.848,68.0],[2.838,66.0],[2.824,65.3],[2.84,64.6],[2.838,63.7],[2.824,60.7],[2.82,60.2],[2.832,59.8],
[2.816,59.2],[2.84,58.2],[2.82,56.6],[2.836,56.3],[2.816,55.2],[2.854,55.2],[2.824,54.6],[2.832,53.5],[2.854,52.3],[2.824,50.3],
[2.838,49.9],[2.808,49.4],[2.84,49.1],[2.844,47.7],[2.83,46.9],[2.816,45.9],[2.834,45.4],[2.824,44.3],[2.836,42.3],[2.848,42.6],
[2.824,41.4],[2.832,39.7],[2.84,39.0],[2.848,38.2],[2.824,37.3],[2.838,36.2],[2.82,35.8],[2.82,34.4],[2.834,34.3],[2.808,32.6],
[2.844,32.4],[2.824,31.6],[2.834,30.2],[2.824,29.6],[2.816,28.4],[2.838,28.1],[2.844,27.3],[2.824,26.7],[2.834,25.6],[2.82,24.4],
[2.84,23.9],[2.824,23.3],[2.844,22.7],[2.816,21.6],[2.84,21.2],[2.824,20.2],[2.838,18.5],[2.808,17.9],[2.816,16.1],[2.838,14.0],
[2.808,13.3],[2.816,10.6]];

const ojDay0 = [[-0.07,60.4],[0.02,60.5],[-0.07,59.1],[-0.07,56.8],[0.003,56.6],[0.0,55.6],[-0.07,55.5],[0.015,53.8],[-0.07,51.4],[-0.07,49.4],
[0.03,48.9],[-0.07,47.6],[0.015,48.1],[0.02,45.8],[0.005,45.0],[-0.07,44.0],[0.03,44.0],[0.01,43.2],[0.01,42.7],[-0.068,42.3],
[0.015,40.7],[-0.065,41.5],[-0.06,40.5],[-0.065,39.6],[-0.055,39.2],[-0.068,38.8],[0.006,39.2],[0.01,38.5],[-0.06,37.5],[-0.068,37.0],
[0.03,36.5],[0.025,36.0],[-0.065,36.2],[-0.055,35.8],
[-0.07,33.8],[-0.05,33.2],[-0.03,32.9],[0.0,33.5],[0.02,32.6],[-0.068,32.1],[-0.058,31.5],[-0.04,31.3],[-0.02,31.6],[0.01,31.1],
[0.035,31.4],[-0.065,30.4],[-0.045,29.8],[-0.025,30.1],[0.005,29.5],[0.04,29.9],[-0.07,29.0],[-0.05,28.5],[-0.03,28.2],[-0.01,28.7],
[0.02,28.1],[0.045,28.6],[-0.06,27.4],[-0.04,26.9],[-0.015,27.2],[0.015,26.6],[0.035,27.0],[-0.068,26.0],[-0.05,25.5],[-0.025,25.8],
[0.0,25.2],[0.03,25.4],[0.05,24.8],[-0.062,24.5],[-0.038,23.9],[-0.01,24.2],[0.02,23.6],[0.045,23.1],[0.06,22.5],[-0.07,23.0],
[-0.05,22.4],[-0.02,22.0],[0.01,22.3],[0.04,21.7],[0.065,21.5],[-0.06,21.2],[-0.035,20.6],[-0.005,20.9],[0.025,20.3],[0.05,20.0],
[0.07,19.8],[-0.068,19.9],[-0.045,19.2],[-0.015,19.5],[0.015,18.9],[0.04,18.5],[0.06,18.2],[0.075,17.8],[-0.06,18.3],[-0.03,17.8],
[0.0,17.3],[0.03,17.0],[0.055,16.5],[0.07,16.0],[-0.066,16.9],[-0.05,16.2],[-0.02,15.9],[0.01,15.4],[0.045,15.0],[0.065,14.6],
[0.078,14.2],[-0.07,15.2],[-0.04,14.6],[-0.01,14.1],[0.02,13.8],[0.05,13.2],[0.072,12.8],[-0.065,13.5],[-0.05,12.8],[-0.02,12.3],
[0.005,12.9],[0.035,12.0],[0.06,11.6],[0.078,11.2],[-0.06,11.5],[-0.035,11.0],[0.0,10.6],[0.025,10.2],[0.05,10.5],[0.07,9.8],
[-0.055,10.0],[-0.03,9.5],[0.01,9.0],[0.045,8.8],[0.065,8.3],[0.075,7.6],[-0.035,8.0],[-0.03,7.2],[-0.03,6.6],[0.03,7.8],
[0.055,7.0],[0.06,6.0],[0.07,6.8],[0.052,5.5],[-0.045,9.7]];
const ojDay0b = [[-0.06,32.6],[-0.035,32.0],[-0.005,32.3],[0.025,31.8],[-0.055,30.0],[-0.03,29.3],[0.0,30.5],[0.03,30.0],[-0.06,28.0],[-0.035,27.6],
[-0.005,27.9],[0.025,27.3],[0.05,26.5],[-0.055,26.4],[-0.03,25.0],[0.01,24.8],[0.04,24.3],[-0.065,23.6],[-0.04,22.8],[-0.01,23.2],
[0.03,22.6],[0.055,22.0],[-0.055,21.6],[-0.025,21.0],[0.005,21.4],[0.035,20.7],[0.06,20.4],[-0.06,20.3],[-0.035,19.8],[-0.005,19.0],
[0.025,19.6],[0.055,19.0],[0.075,18.6],[-0.05,18.8],[-0.02,18.2],[0.01,17.8],[0.04,17.5],[0.065,17.2],[-0.06,17.5],[-0.03,16.6],
[0.0,16.2],[0.03,15.9],[0.06,15.5],[0.075,15.2],[-0.055,15.6],[-0.025,15.0],[0.005,14.6],[0.035,14.3],[0.06,13.9],[0.075,13.4],
[-0.06,14.1],[-0.03,13.2],[0.0,13.5],[0.03,13.0],[0.055,12.4],[0.07,12.0],[-0.055,12.3],[-0.025,11.6],[0.015,11.4],[0.045,11.1],
[0.065,10.8],[0.078,10.2],[-0.045,10.6],[-0.015,10.0],[0.02,9.6],[0.055,9.3],[0.07,9.0],[0.06,8.0],[0.075,8.4],[0.04,7.0],[0.065,6.4]];

const ojDay5 = [[4.972,80.0],[5.146,72.6],[4.972,69.9],[5.146,59.4],[4.962,53.8],[4.962,51.1],[4.972,41.3],[4.96,40.5],[5.124,38.9],[4.972,37.4],
[5.146,36.6],[4.965,36.2],[5.124,35.8],[5.12,34.6],[5.01,33.9],[4.96,33.8],[4.962,33.2],[5.048,32.8],[4.974,31.9],[5.012,31.3],
[4.96,31.0],[4.965,30.6],[5.118,31.4],[5.146,30.9],[5.076,29.9],[5.12,30.2],[5.145,30.4],[5.122,29.2],[4.965,28.3],[4.972,28.0],
[4.976,27.6],[5.146,27.7],[5.075,27.5],[5.05,26.8],[5.015,26.4],[5.12,26.1],[4.97,25.9],[5.005,25.5],[5.033,24.8],[5.062,25.1],
[5.068,23.7],[4.96,24.9],[4.974,24.0],[5.126,24.0],[5.146,24.2],[5.058,22.0],[4.988,22.4],[5.09,21.6],[5.12,22.8],[5.15,22.6],
[4.97,22.5],[5.0,21.8],[5.04,22.2],[5.08,21.6],[5.12,22.0],[4.96,20.4],[4.99,20.0],[5.02,20.7],[5.06,19.8],[5.1,20.3],
[5.14,19.6],[4.97,18.6],[5.0,18.1],[5.03,18.8],[5.07,17.9],[5.11,18.4],[5.14,17.6],[4.96,16.6],[4.99,16.1],[5.02,16.8],
[5.05,15.9],[5.09,16.4],[5.13,15.7],[4.97,14.6],[5.0,14.0],[5.03,14.8],[5.06,13.9],[5.1,14.4],[5.14,13.6],[4.96,12.6],
[4.99,12.0],[5.02,12.8],[5.05,11.9],[5.08,12.4],[5.12,11.7],[5.15,12.2],[4.97,10.6],[5.0,10.0],[5.03,10.8],[5.06,9.9],
[5.09,10.4],[5.13,9.7],[4.96,8.6],[4.99,8.0],[5.02,8.8],[5.05,7.9],[5.08,8.4],[5.11,7.7],[5.14,8.3],[4.97,6.6],
[5.0,6.0],[5.03,6.8],[5.06,5.9],[5.09,6.4],[5.12,5.7],[4.99,4.9],[5.04,5.1],[5.08,4.7],[5.11,5.2],[4.98,17.2],
[5.01,13.2],[5.04,9.2],[5.07,15.1],[5.1,11.1],[4.98,11.3],[5.04,19.3],[5.13,14.8]];
const ojDay5b = [[4.975,21.2],[5.015,21.0],[5.055,20.8],[5.095,21.2],[5.13,20.8],[4.965,19.4],[5.005,19.0],[5.045,18.4],[5.085,19.0],[5.125,18.8],
[4.975,17.6],[5.015,17.2],[5.055,17.0],[5.095,17.4],[5.135,16.6],[4.965,15.4],[5.005,15.2],[5.045,15.6],[5.085,14.9],[5.125,15.0],
[4.975,13.4],[5.015,13.8],[5.055,12.8],[5.095,13.2],[5.135,12.8],[4.965,11.6],[5.005,11.0],[5.045,11.4],[5.085,10.8],[5.125,10.6],
[4.975,9.4],[5.015,9.8],[5.055,9.0],[5.095,9.4],[5.135,9.0],[4.965,7.6],[5.005,7.2],[5.045,7.8],[5.085,7.0],[5.125,7.4],
[4.985,5.8],[5.025,5.6],[5.065,5.2],[5.105,5.8]];

const ojDay6 = [[5.933,66.9],[5.937,56.1],[5.927,52.5],[5.945,44.9],[5.933,42.2],[5.937,40.5],[5.933,38.5],[5.931,37.6],[5.929,37.9],[5.962,35.6],
[5.945,35.5],[5.935,33.8],[5.931,33.0],[5.927,32.6],[5.933,30.0],[6.01,30.5],[5.998,29.6],[6.005,30.1],[5.935,29.4],[5.937,28.3],
[5.931,26.8],[5.955,26.5],[5.975,26.4],[5.927,25.8],[5.925,24.4],[5.985,23.8],[5.97,23.6],[5.945,22.9],[5.923,22.6],[5.965,22.2],[5.99,22.9],
[5.925,21.0],[5.95,20.5],[5.975,21.3],[6.0,20.2],[6.02,20.8],[5.93,19.0],[5.955,18.5],[5.98,19.2],[6.005,18.2],[5.925,17.0],
[5.95,16.4],[5.975,17.2],[6.0,16.1],[6.02,16.8],[5.93,15.0],[5.955,14.4],[5.98,15.2],[6.005,14.1],[5.925,13.0],[5.95,12.4],
[5.975,13.2],[6.0,12.1],[6.02,12.8],[5.93,11.0],[5.955,10.4],[5.98,11.2],[6.005,10.1],[5.935,9.0],[5.96,8.4],[5.985,9.2],
[6.01,8.6],[5.94,7.2],[5.965,6.6],[5.99,7.4],[5.955,6.3],[5.94,16.0],[5.97,14.0],[5.99,18.0],[5.96,12.0],[5.98,10.0]];
const ojDay6b = [[5.94,20.0],[5.965,19.6],[5.99,20.6],[6.015,19.4],[5.935,18.0],[5.96,17.6],[5.985,17.0],[6.01,17.4],[5.94,16.5],[5.965,15.8],
[5.99,15.8],[6.015,15.2],[5.935,14.2],[5.96,13.4],[5.985,14.4],[6.01,13.0],[5.94,12.6],[5.965,11.8],[5.99,12.6],[6.015,11.6],
[5.935,10.2],[5.96,9.6],[5.985,10.6],[6.01,9.6],[5.945,8.6],[5.97,7.8],[5.995,8.2],[5.95,7.0]];

// ---- series: name, colour, marker, and the observing blocks that belong to it ----
const seriesNames   = ['Sgr A*','3C279','Cen A','M87','NGC1052','OJ287'];
const seriesColours = ['#9400d3','#009e73','#56b4e9','#e69f00','#e51e10','#0072b2'];
const seriesMarkers = ['cross','crossRot','star','rect','circle','circle'];
const seriesFilled  = [false,false,false,false,true,false];
const seriesRadius  = [2.6,3.2,3.0,4.2,3.4,2.9];
const seriesBlocks  = [
  [sgrDay1,sgrDay1b,sgrDay2,sgrDay2b,sgrDay6,sgrDay6b],
  [c3Day0,c3Day0b,c3Day5,c3Day5b,c3Day6,c3Day6b],
  [cenDay5,cenDay5b],
  [m87Day0,m87Day0b,m87Day1,m87Day1b,m87Day6,m87Day6b],
  [ngcDay1,ngcDay2],
  [ojDay0,ojDay0b,ojDay5,ojDay5b,ojDay6,ojDay6b]
];

const FONT = '"DejaVu Sans", "Liberation Sans", sans-serif';
const MARK_LW = 1.4;

const datasets = seriesNames.map((name,i)=>({
  label:name,
  data:[].concat(...seriesBlocks[i]).map(p=>({x:p[0],y:p[1]})),
  pointStyle:seriesMarkers[i],
  pointRadius:seriesRadius[i],
  pointHoverRadius:seriesRadius[i],
  pointBorderWidth:MARK_LW,
  borderColor:seriesColours[i],
  backgroundColor:seriesFilled[i]?seriesColours[i]:'rgba(0,0,0,0)',
  showLine:false
}));

function drawMarker(ctx,style,r,x,y,colour,filled){
  ctx.save();
  ctx.strokeStyle=colour; ctx.fillStyle=colour; ctx.lineWidth=MARK_LW;
  ctx.beginPath();
  if(style==='cross'){ctx.moveTo(x-r,y);ctx.lineTo(x+r,y);ctx.moveTo(x,y-r);ctx.lineTo(x,y+r);ctx.stroke();}
  else if(style==='crossRot'){const o=r*Math.SQRT1_2;ctx.moveTo(x-o,y-o);ctx.lineTo(x+o,y+o);ctx.moveTo(x+o,y-o);ctx.lineTo(x-o,y+o);ctx.stroke();}
  else if(style==='star'){const o=r*Math.SQRT1_2;ctx.moveTo(x-r,y);ctx.lineTo(x+r,y);ctx.moveTo(x,y-r);ctx.lineTo(x,y+r);ctx.moveTo(x-o,y-o);ctx.lineTo(x+o,y+o);ctx.moveTo(x+o,y-o);ctx.lineTo(x-o,y+o);ctx.stroke();}
  else if(style==='rect'){const s=r*Math.SQRT1_2;ctx.rect(x-s,y-s,2*s,2*s);ctx.stroke();}
  else {ctx.arc(x,y,r,0,Math.PI*2);if(filled)ctx.fill();ctx.stroke();}
  ctx.restore();
}

const framePlugin = {
  id:'frame',
  beforeDatasetsDraw(chart){
    const {ctx, chartArea:a, scales:{x,y}} = chart;
    ctx.save();
    ctx.strokeStyle='#9a9a9a'; ctx.lineWidth=1; ctx.setLineDash([1,3]);
    efficiencyLevels.forEach(e=>{
      const py=Math.round(y.getPixelForValue(e.value))+0.5;
      ctx.beginPath(); ctx.moveTo(a.left,py); ctx.lineTo(a.right,py); ctx.stroke();
    });
    ctx.setLineDash([]);
    ctx.fillStyle='#000'; ctx.font='16px '+FONT; ctx.textAlign='left'; ctx.textBaseline='middle';
    efficiencyLevels.forEach(e=>ctx.fillText(e.label, x.getPixelForValue(e.labelX), y.getPixelForValue(e.labelY)));
    ctx.restore();
  },
  afterDraw(chart){
    const {ctx, chartArea:a, scales:{x,y}} = chart;
    ctx.save();
    ctx.strokeStyle='#000'; ctx.lineWidth=1;
    const L=Math.round(a.left)+0.5, R=Math.round(a.right)-0.5, T=Math.round(a.top)+0.5, B=Math.round(a.bottom)-0.5;
    ctx.strokeRect(L,T,R-L,B-T);
    ctx.beginPath();
    yTickValues.forEach(v=>{const py=Math.round(y.getPixelForValue(v))+0.5; ctx.moveTo(L,py);ctx.lineTo(L+9,py);ctx.moveTo(R,py);ctx.lineTo(R-9,py);});
    xTickValues.forEach(v=>{const px=Math.round(x.getPixelForValue(v))+0.5; ctx.moveTo(px,B);ctx.lineTo(px,B-8);ctx.moveTo(px,T);ctx.lineTo(px,T+8);});
    ctx.stroke();
    // key box
    const bx=736.5, by=57.5, bw=157, bh=138;
    ctx.strokeRect(bx,by,bw,bh);
    ctx.fillStyle='#000'; ctx.font='16px '+FONT; ctx.textAlign='right'; ctx.textBaseline='middle';
    seriesNames.forEach((n,i)=>{
      const ry=80+i*19.2;
      ctx.fillText(n, 821, ry);
      drawMarker(ctx, seriesMarkers[i], seriesRadius[i], 857.5, ry, seriesColours[i], seriesFilled[i]);
    });
    ctx.restore();
  }
};

new Chart(document.getElementById('c'), {
  type:'scatter',
  data:{datasets},
  plugins:[framePlugin],
  options:{
    responsive:false, animation:false, devicePixelRatio:1,
    layout:{padding:{top:12,right:12,left:0,bottom:0}},
    plugins:{legend:{display:false}, tooltip:{enabled:false}},
    elements:{point:{borderWidth:MARK_LW}},
    scales:{
      x:{type:'linear', min:-0.5, max:7,
         afterBuildTicks:s=>{s.ticks=xTickValues.map(v=>({value:v}));},
         afterFit:s=>{s.height=59; s.paddingLeft=0; s.paddingRight=0;},
         grid:{display:false, drawTicks:false}, border:{display:false},
         ticks:{color:'#000', font:{family:FONT,size:16}, padding:12, maxRotation:0},
         title:{display:true, text:'Days from 0 UT on April 5, 2017', color:'#000', font:{family:FONT,size:16}, padding:{top:0,bottom:0}}},
      y:{type:'linear', min:0, max:90,
         afterBuildTicks:s=>{s.ticks=yTickValues.map(v=>({value:v}));},
         afterFit:s=>{s.width=81; s.paddingTop=0; s.paddingBottom=0;},
         grid:{display:false, drawTicks:false}, border:{display:false},
         ticks:{color:'#000', font:{family:FONT,size:16}, padding:12},
         title:{display:true, text:'Average Phase Correction', color:'#000', font:{family:FONT,size:16}, padding:{top:8,bottom:0}}}
    }
  }
});
</script>
</body></html>
